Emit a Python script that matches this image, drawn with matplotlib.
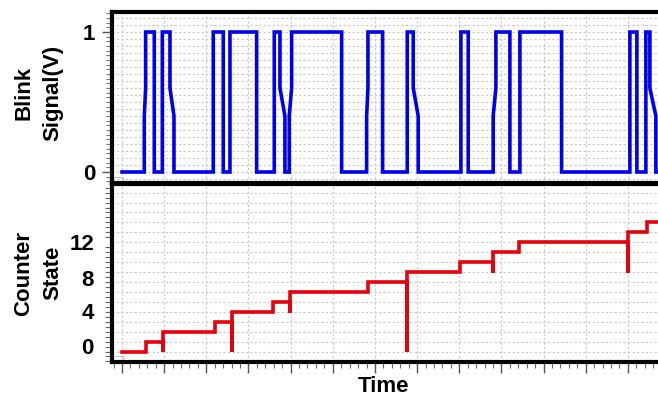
import numpy as np
import matplotlib
matplotlib.use("Agg")
import matplotlib.pyplot as plt
from matplotlib.ticker import MultipleLocator, FixedLocator, NullFormatter
from matplotlib.patches import Rectangle

plt.rcParams['font.family'] = ['Liberation Sans', 'DejaVu Sans']

# ---- data (time in grid units) ----
blink_edge_start = [0.529, 0.766, 0.956, 1.138, 2.165, 2.402, 2.561, 3.194, 3.612, 3.747,
                    3.967, 5.210, 5.803, 6.182, 6.766, 6.908, 8.039, 8.212, 8.805, 9.201,
                    9.438, 10.427, 12.047, 12.213, 12.426, 12.521]
blink_edge_end = [0.561, 0.766, 0.956, 1.233, 2.165, 2.402, 2.561, 3.194, 3.612, 3.865,
                  4.024, 5.210, 5.834, 6.182, 6.766, 7.026, 8.039, 8.212, 8.869, 9.201,
                  9.438, 10.427, 12.047, 12.213, 12.426, 12.663]
blink_level = [1, 0, 1, 0, 1, 0, 1, 0, 1, 0,
               1, 0, 1, 0, 1, 0, 1, 0, 1, 0,
               1, 0, 1, 0, 1, 0]

count_t = [0.569, 0.972, 2.205, 2.608, 3.581, 3.984, 5.834, 6.758, 8.015, 8.798, 9.414, 11.999, 12.450]
count_level = [1, 2, 3, 4, 5, 6, 7, 8, 9, 10, 11, 12, 13]
count_glitch = [None, -0.1, None, -0.1, None, 3.9, None, -0.1, None, 7.9, None, 7.9, None]

top_ticks = [0, 1]
top_ticklabels = ['0', '1']
bottom_ticklabel_pos = [0.55, 4.1, 7.4, 11.0]
bottom_ticklabels = ['0', '4', '8', '12']

W, H = 658, 398
XMIN, XMAX = -0.237, 12.88

fig = plt.figure(figsize=(W / 100, H / 100), dpi=100)
ax1 = fig.add_axes([112 / W, 1 - 183 / H, (665 - 112) / W, (183 - 12) / H])
ax2 = fig.add_axes([112 / W, 1 - 362 / H, (665 - 112) / W, (362 - 184) / H])

grid_kw = dict(color='#c8c8c8', lw=0.8, linestyle=(0, (2, 2)), zorder=0)

# ---- top: blink signal ----
bx, by = [0.0], [0.0]
prev = 0
for s, e, lv in zip(blink_edge_start, blink_edge_end, blink_level):
    if e > s:
        bx += [s, s, e, e]
        by += [prev, prev + 0.4 * (lv - prev), prev + 0.6 * (lv - prev), lv]
    else:
        bx += [s, e]
        by += [prev, lv]
    prev = lv
bx.append(XMAX)
by.append(prev)
ax1.set_xlim(XMIN, XMAX)
ax1.set_ylim(-0.0786, 1.143)
for yv in np.arange(-0.05, 1.15, 0.05):
    ax1.axhline(yv, **grid_kw)
for xv in range(0, 13):
    ax1.axvline(xv, **grid_kw)
ax1.plot(bx, by, color='#0000F0', lw=2.6, solid_joinstyle='miter', zorder=3)
ax1.yaxis.set_major_locator(FixedLocator(top_ticks))
ax1.set_yticklabels(top_ticklabels)
ax1.yaxis.set_minor_locator(MultipleLocator(1 / 30))
ax1.tick_params(axis='y', which='major', direction='out', length=7, width=1, color='#555555',
                labelsize=16, pad=5)
ax1.tick_params(axis='y', which='minor', direction='out', length=4, width=0.8, color='#777777')
ax1.tick_params(axis='x', which='both', bottom=False, labelbottom=False)
for lab in ax1.get_yticklabels():
    lab.set_fontweight('bold')
ax1.add_patch(Rectangle((0.0, 0.0), 0.02, 0.035, transform=ax1.transAxes,
                        fill=False, ec='#bbbbbb', lw=0.6, zorder=2))

# ---- bottom: counter ----
cx, cy = [0.0], [0.0]
prev = 0
for t, lv, g in zip(count_t, count_level, count_glitch):
    cx.append(t); cy.append(prev)
    if g is not None:
        cx.append(t); cy.append(g)
    cx.append(t); cy.append(lv)
    prev = lv
cx.append(XMAX)
cy.append(prev)
ax2.set_xlim(XMIN, XMAX)
ax2.set_ylim(-1.057, 16.87)
for yv in range(0, 17):
    ax2.axhline(yv, **grid_kw)
for xv in range(0, 13):
    ax2.axvline(xv, **grid_kw)
ax2.plot(cx, cy, color='#E8000A', lw=2.6, solid_joinstyle='miter', zorder=3)
ax2.yaxis.set_major_locator(FixedLocator(bottom_ticklabel_pos))
ax2.set_yticklabels(bottom_ticklabels)
ax2.yaxis.set_minor_locator(MultipleLocator(0.5))
ax2.tick_params(axis='y', which='major', direction='out', length=0, labelsize=16, pad=13)
ax2.tick_params(axis='y', which='minor', direction='out', length=5, width=0.8, color='#666666')
for lab in ax2.get_yticklabels():
    lab.set_fontweight('bold')
ax2.xaxis.set_major_locator(MultipleLocator(1))
ax2.xaxis.set_minor_locator(MultipleLocator(0.2))
ax2.xaxis.set_major_formatter(NullFormatter())
ax2.tick_params(axis='x', which='major', direction='out', length=8, width=1, color='#555555')
ax2.tick_params(axis='x', which='minor', direction='out', length=4, width=0.8, color='#666666')
ax2.add_patch(Rectangle((0.0, 0.0), 0.02, 0.035, transform=ax2.transAxes,
                        fill=False, ec='#bbbbbb', lw=0.6, zorder=2))

for ax in (ax1, ax2):
    for sp in ax.spines.values():
        sp.set_linewidth(3)
        sp.set_color('black')

fig.text(38.5 / W, 1 - 93 / H, 'Blink\nSignal(V)', rotation=90, ha='center', va='center',
         multialignment='center', fontsize=16, fontweight='bold', linespacing=1.5)
fig.text(38.5 / W, 1 - 273 / H, 'Counter\nState', rotation=90, ha='center', va='center',
         multialignment='center', fontsize=16, fontweight='bold', linespacing=1.5)
fig.text(384 / W, 1 - 387 / H, 'Time', ha='center', va='center', fontsize=16, fontweight='bold')

fig.savefig('out.png', dpi=100)
